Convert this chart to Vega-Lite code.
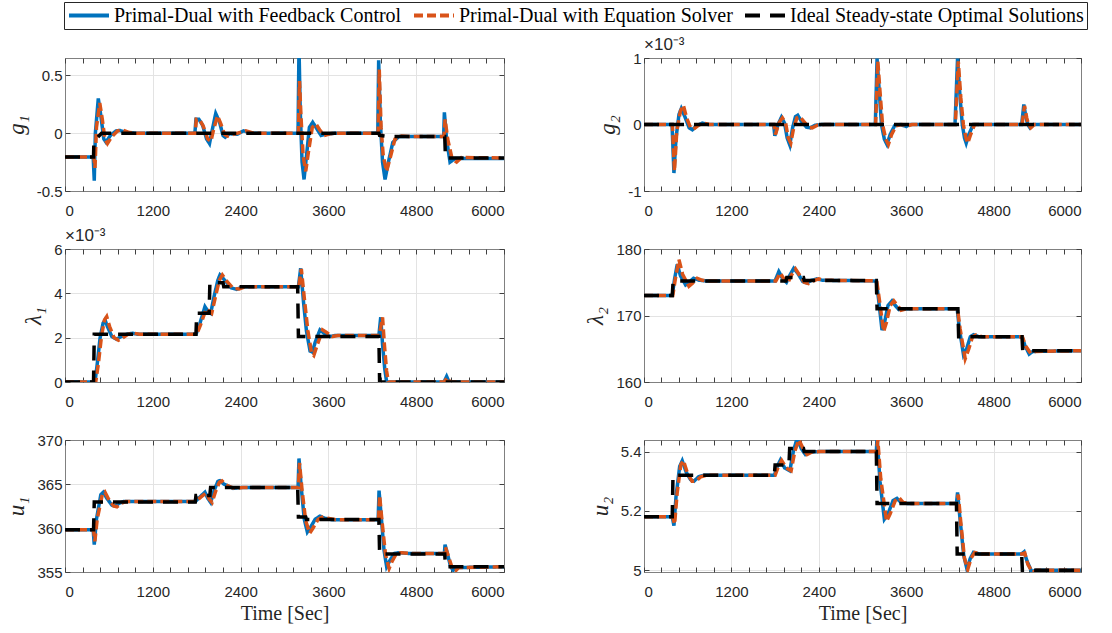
{
"$schema": "https://vega.github.io/schema/vega-lite/v6.json",
"padding": {"left": 4, "top": 1, "right": 5, "bottom": 5},
"config": {
 "font": "Liberation Sans",
 "view": {"stroke": "#808080", "strokeWidth": 1},
 "axis": {"domain": false, "gridColor": "#e3e3e3", "gridWidth": 1, "tickColor": "#404040", "tickSize": -5, "labelFont": "Liberation Sans", "labelFontSize": 15, "labelColor": "#262626", "titleFont": "Liberation Serif", "titleFontWeight": "normal", "titleColor": "#262626"},
 "axisX": {"labelPadding": 17, "titleFontSize": 20, "titlePadding": 4},
 "axisY": {"labelPadding": 8, "titleFontSize": 23, "titlePadding": 8},
 "title": {"font": "Liberation Sans", "fontSize": 17, "fontWeight": "normal", "color": "#262626", "anchor": "start", "frame": "group", "offset": -3},
 "legend": {"orient": "none", "legendX": -1, "legendY": -56, "direction": "horizontal", "title": null, "labelFont": "Liberation Serif", "labelFontSize": 20, "labelLimit": 0, "labelColor": "#000000", "symbolType": "stroke", "symbolSize": 1600, "symbolStrokeWidth": 4, "clipHeight": 21, "strokeColor": "#262626", "fillColor": "#ffffff", "padding": 3, "columnPadding": 10, "labelOffset": 3}
},
"data": {"values": [
{"p":"g1","s":"A","t":0,"v":-0.205},{"p":"g1","s":"A","t":385,"v":-0.205},{"p":"g1","s":"A","t":400,"v":-0.41},{"p":"g1","s":"A","t":415,"v":0.0},{"p":"g1","s":"A","t":455,"v":0.30},{"p":"g1","s":"A","t":490,"v":0.15},{"p":"g1","s":"A","t":530,"v":-0.05},{"p":"g1","s":"A","t":560,"v":-0.077},{"p":"g1","s":"A","t":620,"v":-0.02},{"p":"g1","s":"A","t":700,"v":0.02},{"p":"g1","s":"A","t":750,"v":0.023},{"p":"g1","s":"A","t":850,"v":0.005},{"p":"g1","s":"A","t":950,"v":0},{"p":"g1","s":"A","t":1775,"v":0},{"p":"g1","s":"A","t":1790,"v":0.12},{"p":"g1","s":"A","t":1830,"v":0.12},{"p":"g1","s":"A","t":1880,"v":0.07},{"p":"g1","s":"A","t":1935,"v":-0.05},{"p":"g1","s":"A","t":1975,"v":-0.09},{"p":"g1","s":"A","t":2010,"v":0.02},{"p":"g1","s":"A","t":2060,"v":0.17},{"p":"g1","s":"A","t":2110,"v":0.10},{"p":"g1","s":"A","t":2160,"v":-0.02},{"p":"g1","s":"A","t":2190,"v":-0.035},{"p":"g1","s":"A","t":2250,"v":-0.005},{"p":"g1","s":"A","t":2350,"v":-0.01},{"p":"g1","s":"A","t":2440,"v":0.02},{"p":"g1","s":"A","t":2550,"v":0},{"p":"g1","s":"A","t":3185,"v":0},{"p":"g1","s":"A","t":3198,"v":0.75},{"p":"g1","s":"A","t":3215,"v":0.2},{"p":"g1","s":"A","t":3240,"v":-0.25},{"p":"g1","s":"A","t":3267,"v":-0.40},{"p":"g1","s":"A","t":3300,"v":-0.2},{"p":"g1","s":"A","t":3340,"v":0.05},{"p":"g1","s":"A","t":3385,"v":0.094},{"p":"g1","s":"A","t":3440,"v":0.04},{"p":"g1","s":"A","t":3500,"v":-0.02},{"p":"g1","s":"A","t":3560,"v":-0.01},{"p":"g1","s":"A","t":3700,"v":0},{"p":"g1","s":"A","t":4275,"v":0},{"p":"g1","s":"A","t":4287,"v":0.63},{"p":"g1","s":"A","t":4310,"v":0.1},{"p":"g1","s":"A","t":4340,"v":-0.25},{"p":"g1","s":"A","t":4374,"v":-0.40},{"p":"g1","s":"A","t":4420,"v":-0.25},{"p":"g1","s":"A","t":4480,"v":-0.08},{"p":"g1","s":"A","t":4560,"v":-0.03},{"p":"g1","s":"A","t":4700,"v":-0.028},{"p":"g1","s":"A","t":5175,"v":-0.028},{"p":"g1","s":"A","t":5185,"v":0.18},{"p":"g1","s":"A","t":5215,"v":-0.05},{"p":"g1","s":"A","t":5262,"v":-0.25},{"p":"g1","s":"A","t":5330,"v":-0.22},{"p":"g1","s":"A","t":6000,"v":-0.22},
{"p":"g1","s":"B","t":0,"v":-0.205},{"p":"g1","s":"B","t":395,"v":-0.205},{"p":"g1","s":"B","t":410,"v":-0.3},{"p":"g1","s":"B","t":430,"v":0.05},{"p":"g1","s":"B","t":475,"v":0.26},{"p":"g1","s":"B","t":510,"v":0.12},{"p":"g1","s":"B","t":545,"v":-0.05},{"p":"g1","s":"B","t":580,"v":-0.09},{"p":"g1","s":"B","t":640,"v":-0.03},{"p":"g1","s":"B","t":720,"v":0.02},{"p":"g1","s":"B","t":780,"v":0.03},{"p":"g1","s":"B","t":880,"v":0.005},{"p":"g1","s":"B","t":980,"v":0},{"p":"g1","s":"B","t":1780,"v":0},{"p":"g1","s":"B","t":1795,"v":0.12},{"p":"g1","s":"B","t":1840,"v":0.115},{"p":"g1","s":"B","t":1890,"v":0.06},{"p":"g1","s":"B","t":1950,"v":-0.05},{"p":"g1","s":"B","t":1995,"v":-0.07},{"p":"g1","s":"B","t":2030,"v":0.03},{"p":"g1","s":"B","t":2085,"v":0.15},{"p":"g1","s":"B","t":2130,"v":0.08},{"p":"g1","s":"B","t":2180,"v":-0.01},{"p":"g1","s":"B","t":2220,"v":-0.025},{"p":"g1","s":"B","t":2300,"v":-0.01},{"p":"g1","s":"B","t":2470,"v":0.02},{"p":"g1","s":"B","t":2580,"v":0},{"p":"g1","s":"B","t":3190,"v":0},{"p":"g1","s":"B","t":3205,"v":0.45},{"p":"g1","s":"B","t":3225,"v":0.15},{"p":"g1","s":"B","t":3255,"v":-0.2},{"p":"g1","s":"B","t":3290,"v":-0.33},{"p":"g1","s":"B","t":3330,"v":-0.15},{"p":"g1","s":"B","t":3380,"v":0.05},{"p":"g1","s":"B","t":3430,"v":0.08},{"p":"g1","s":"B","t":3480,"v":0.03},{"p":"g1","s":"B","t":3540,"v":-0.02},{"p":"g1","s":"B","t":3620,"v":-0.005},{"p":"g1","s":"B","t":3750,"v":0},{"p":"g1","s":"B","t":4280,"v":0},{"p":"g1","s":"B","t":4295,"v":0.55},{"p":"g1","s":"B","t":4320,"v":0.05},{"p":"g1","s":"B","t":4350,"v":-0.2},{"p":"g1","s":"B","t":4395,"v":-0.33},{"p":"g1","s":"B","t":4450,"v":-0.2},{"p":"g1","s":"B","t":4510,"v":-0.05},{"p":"g1","s":"B","t":4600,"v":-0.025},{"p":"g1","s":"B","t":4700,"v":-0.028},{"p":"g1","s":"B","t":5180,"v":-0.028},{"p":"g1","s":"B","t":5195,"v":0.12},{"p":"g1","s":"B","t":5230,"v":-0.05},{"p":"g1","s":"B","t":5290,"v":-0.22},{"p":"g1","s":"B","t":5353,"v":-0.25},{"p":"g1","s":"B","t":5420,"v":-0.21},{"p":"g1","s":"B","t":6000,"v":-0.215},
{"p":"g1","s":"C","t":0,"v":-0.205},{"p":"g1","s":"C","t":390,"v":-0.205},{"p":"g1","s":"C","t":395,"v":-0.07},{"p":"g1","s":"C","t":500,"v":0},{"p":"g1","s":"C","t":4290,"v":0},{"p":"g1","s":"C","t":4300,"v":-0.02},{"p":"g1","s":"C","t":4400,"v":-0.028},{"p":"g1","s":"C","t":5190,"v":-0.028},{"p":"g1","s":"C","t":5200,"v":-0.215},{"p":"g1","s":"C","t":6000,"v":-0.215},

{"p":"g2","s":"A","t":0,"v":0},{"p":"g2","s":"A","t":385,"v":0},{"p":"g2","s":"A","t":411,"v":-0.73},{"p":"g2","s":"A","t":440,"v":-0.2},{"p":"g2","s":"A","t":480,"v":0.15},{"p":"g2","s":"A","t":512,"v":0.24},{"p":"g2","s":"A","t":560,"v":0.12},{"p":"g2","s":"A","t":620,"v":-0.05},{"p":"g2","s":"A","t":663,"v":-0.08},{"p":"g2","s":"A","t":720,"v":-0.02},{"p":"g2","s":"A","t":800,"v":0.02},{"p":"g2","s":"A","t":880,"v":0},{"p":"g2","s":"A","t":1780,"v":0},{"p":"g2","s":"A","t":1796,"v":-0.17},{"p":"g2","s":"A","t":1840,"v":0.0},{"p":"g2","s":"A","t":1887,"v":0.11},{"p":"g2","s":"A","t":1930,"v":0.02},{"p":"g2","s":"A","t":1965,"v":-0.2},{"p":"g2","s":"A","t":2002,"v":-0.31},{"p":"g2","s":"A","t":2040,"v":-0.05},{"p":"g2","s":"A","t":2080,"v":0.12},{"p":"g2","s":"A","t":2110,"v":0.14},{"p":"g2","s":"A","t":2160,"v":0.05},{"p":"g2","s":"A","t":2230,"v":-0.04},{"p":"g2","s":"A","t":2285,"v":-0.05},{"p":"g2","s":"A","t":2350,"v":-0.01},{"p":"g2","s":"A","t":2450,"v":0},{"p":"g2","s":"A","t":3176,"v":0},{"p":"g2","s":"A","t":3200,"v":0.99},{"p":"g2","s":"A","t":3230,"v":0.5},{"p":"g2","s":"A","t":3260,"v":0.0},{"p":"g2","s":"A","t":3300,"v":-0.22},{"p":"g2","s":"A","t":3336,"v":-0.30},{"p":"g2","s":"A","t":3380,"v":-0.15},{"p":"g2","s":"A","t":3440,"v":-0.02},{"p":"g2","s":"A","t":3520,"v":0.0},{"p":"g2","s":"A","t":3600,"v":-0.03},{"p":"g2","s":"A","t":3650,"v":0},{"p":"g2","s":"A","t":4270,"v":0},{"p":"g2","s":"A","t":4305,"v":0.99},{"p":"g2","s":"A","t":4340,"v":0.4},{"p":"g2","s":"A","t":4370,"v":0.0},{"p":"g2","s":"A","t":4400,"v":-0.2},{"p":"g2","s":"A","t":4424,"v":-0.28},{"p":"g2","s":"A","t":4460,"v":-0.15},{"p":"g2","s":"A","t":4520,"v":0},{"p":"g2","s":"A","t":5185,"v":0},{"p":"g2","s":"A","t":5215,"v":0.30},{"p":"g2","s":"A","t":5245,"v":0.1},{"p":"g2","s":"A","t":5270,"v":0},{"p":"g2","s":"A","t":5300,"v":-0.05},{"p":"g2","s":"A","t":5350,"v":0},{"p":"g2","s":"A","t":6000,"v":0},
{"p":"g2","s":"B","t":0,"v":0},{"p":"g2","s":"B","t":390,"v":0},{"p":"g2","s":"B","t":418,"v":-0.70},{"p":"g2","s":"B","t":450,"v":-0.1},{"p":"g2","s":"B","t":500,"v":0.2},{"p":"g2","s":"B","t":540,"v":0.29},{"p":"g2","s":"B","t":585,"v":0.1},{"p":"g2","s":"B","t":640,"v":-0.05},{"p":"g2","s":"B","t":680,"v":-0.07},{"p":"g2","s":"B","t":750,"v":-0.01},{"p":"g2","s":"B","t":820,"v":0.02},{"p":"g2","s":"B","t":900,"v":0},{"p":"g2","s":"B","t":1785,"v":0},{"p":"g2","s":"B","t":1805,"v":-0.15},{"p":"g2","s":"B","t":1850,"v":0.02},{"p":"g2","s":"B","t":1900,"v":0.10},{"p":"g2","s":"B","t":1945,"v":0.02},{"p":"g2","s":"B","t":1980,"v":-0.2},{"p":"g2","s":"B","t":2015,"v":-0.28},{"p":"g2","s":"B","t":2055,"v":-0.05},{"p":"g2","s":"B","t":2100,"v":0.10},{"p":"g2","s":"B","t":2140,"v":0.12},{"p":"g2","s":"B","t":2190,"v":0.05},{"p":"g2","s":"B","t":2260,"v":-0.04},{"p":"g2","s":"B","t":2310,"v":-0.05},{"p":"g2","s":"B","t":2380,"v":-0.01},{"p":"g2","s":"B","t":2480,"v":0},{"p":"g2","s":"B","t":3180,"v":0},{"p":"g2","s":"B","t":3210,"v":0.95},{"p":"g2","s":"B","t":3240,"v":0.5},{"p":"g2","s":"B","t":3275,"v":0.0},{"p":"g2","s":"B","t":3320,"v":-0.22},{"p":"g2","s":"B","t":3355,"v":-0.30},{"p":"g2","s":"B","t":3400,"v":-0.15},{"p":"g2","s":"B","t":3460,"v":-0.02},{"p":"g2","s":"B","t":3540,"v":0.0},{"p":"g2","s":"B","t":3620,"v":-0.02},{"p":"g2","s":"B","t":3680,"v":0},{"p":"g2","s":"B","t":4275,"v":0},{"p":"g2","s":"B","t":4315,"v":0.95},{"p":"g2","s":"B","t":4350,"v":0.4},{"p":"g2","s":"B","t":4385,"v":0.0},{"p":"g2","s":"B","t":4420,"v":-0.2},{"p":"g2","s":"B","t":4445,"v":-0.28},{"p":"g2","s":"B","t":4485,"v":-0.15},{"p":"g2","s":"B","t":4540,"v":0},{"p":"g2","s":"B","t":5190,"v":0},{"p":"g2","s":"B","t":5225,"v":0.28},{"p":"g2","s":"B","t":5255,"v":0.1},{"p":"g2","s":"B","t":5280,"v":0},{"p":"g2","s":"B","t":5310,"v":-0.05},{"p":"g2","s":"B","t":5360,"v":0},{"p":"g2","s":"B","t":6000,"v":0},
{"p":"g2","s":"C","t":0,"v":0},{"p":"g2","s":"C","t":6000,"v":0},

{"p":"l1","s":"A","t":0,"v":0},{"p":"l1","s":"A","t":410,"v":0},{"p":"l1","s":"A","t":440,"v":0.8},{"p":"l1","s":"A","t":480,"v":2.0},{"p":"l1","s":"A","t":520,"v":2.65},{"p":"l1","s":"A","t":547,"v":2.8},{"p":"l1","s":"A","t":580,"v":2.5},{"p":"l1","s":"A","t":640,"v":2.05},{"p":"l1","s":"A","t":706,"v":1.93},{"p":"l1","s":"A","t":770,"v":2.05},{"p":"l1","s":"A","t":840,"v":2.15},{"p":"l1","s":"A","t":920,"v":2.2},{"p":"l1","s":"A","t":1000,"v":2.15},{"p":"l1","s":"A","t":1790,"v":2.15},{"p":"l1","s":"A","t":1840,"v":2.6},{"p":"l1","s":"A","t":1913,"v":3.4},{"p":"l1","s":"A","t":1950,"v":3.2},{"p":"l1","s":"A","t":1991,"v":3.1},{"p":"l1","s":"A","t":2040,"v":3.9},{"p":"l1","s":"A","t":2090,"v":4.6},{"p":"l1","s":"A","t":2118,"v":4.83},{"p":"l1","s":"A","t":2180,"v":4.6},{"p":"l1","s":"A","t":2270,"v":4.25},{"p":"l1","s":"A","t":2346,"v":4.18},{"p":"l1","s":"A","t":2420,"v":4.28},{"p":"l1","s":"A","t":2500,"v":4.3},{"p":"l1","s":"A","t":3190,"v":4.3},{"p":"l1","s":"A","t":3221,"v":5.13},{"p":"l1","s":"A","t":3260,"v":3.6},{"p":"l1","s":"A","t":3300,"v":2.3},{"p":"l1","s":"A","t":3349,"v":1.4},{"p":"l1","s":"A","t":3380,"v":1.35},{"p":"l1","s":"A","t":3420,"v":1.8},{"p":"l1","s":"A","t":3485,"v":2.35},{"p":"l1","s":"A","t":3540,"v":2.2},{"p":"l1","s":"A","t":3620,"v":2.05},{"p":"l1","s":"A","t":3700,"v":2.1},{"p":"l1","s":"A","t":4290,"v":2.1},{"p":"l1","s":"A","t":4315,"v":2.92},{"p":"l1","s":"A","t":4340,"v":1.7},{"p":"l1","s":"A","t":4370,"v":0.6},{"p":"l1","s":"A","t":4396,"v":0},{"p":"l1","s":"A","t":5180,"v":0},{"p":"l1","s":"A","t":5216,"v":0.25},{"p":"l1","s":"A","t":5250,"v":0},{"p":"l1","s":"A","t":6000,"v":0},
{"p":"l1","s":"B","t":0,"v":0},{"p":"l1","s":"B","t":420,"v":0},{"p":"l1","s":"B","t":455,"v":0.8},{"p":"l1","s":"B","t":500,"v":2.1},{"p":"l1","s":"B","t":540,"v":2.8},{"p":"l1","s":"B","t":570,"v":2.95},{"p":"l1","s":"B","t":610,"v":2.5},{"p":"l1","s":"B","t":670,"v":2.0},{"p":"l1","s":"B","t":730,"v":1.88},{"p":"l1","s":"B","t":790,"v":2.0},{"p":"l1","s":"B","t":860,"v":2.15},{"p":"l1","s":"B","t":940,"v":2.2},{"p":"l1","s":"B","t":1020,"v":2.15},{"p":"l1","s":"B","t":1800,"v":2.15},{"p":"l1","s":"B","t":1855,"v":2.6},{"p":"l1","s":"B","t":1930,"v":3.3},{"p":"l1","s":"B","t":1970,"v":3.2},{"p":"l1","s":"B","t":2005,"v":3.1},{"p":"l1","s":"B","t":2060,"v":3.9},{"p":"l1","s":"B","t":2110,"v":4.6},{"p":"l1","s":"B","t":2150,"v":4.83},{"p":"l1","s":"B","t":2210,"v":4.55},{"p":"l1","s":"B","t":2300,"v":4.22},{"p":"l1","s":"B","t":2380,"v":4.2},{"p":"l1","s":"B","t":2450,"v":4.28},{"p":"l1","s":"B","t":2530,"v":4.3},{"p":"l1","s":"B","t":3195,"v":4.3},{"p":"l1","s":"B","t":3230,"v":5.1},{"p":"l1","s":"B","t":3270,"v":3.8},{"p":"l1","s":"B","t":3320,"v":2.3},{"p":"l1","s":"B","t":3370,"v":1.3},{"p":"l1","s":"B","t":3400,"v":1.2},{"p":"l1","s":"B","t":3440,"v":1.6},{"p":"l1","s":"B","t":3520,"v":2.35},{"p":"l1","s":"B","t":3570,"v":2.25},{"p":"l1","s":"B","t":3650,"v":2.05},{"p":"l1","s":"B","t":3730,"v":2.1},{"p":"l1","s":"B","t":4295,"v":2.1},{"p":"l1","s":"B","t":4340,"v":2.92},{"p":"l1","s":"B","t":4365,"v":1.7},{"p":"l1","s":"B","t":4395,"v":0.5},{"p":"l1","s":"B","t":4420,"v":0},{"p":"l1","s":"B","t":5185,"v":0},{"p":"l1","s":"B","t":5225,"v":0.2},{"p":"l1","s":"B","t":5260,"v":0},{"p":"l1","s":"B","t":6000,"v":0},
{"p":"l1","s":"C","t":0,"v":0},{"p":"l1","s":"C","t":390,"v":0},{"p":"l1","s":"C","t":400,"v":2.15},{"p":"l1","s":"C","t":1790,"v":2.15},{"p":"l1","s":"C","t":1800,"v":3.1},{"p":"l1","s":"C","t":1970,"v":3.1},{"p":"l1","s":"C","t":1980,"v":4.48},{"p":"l1","s":"C","t":2160,"v":4.48},{"p":"l1","s":"C","t":2170,"v":4.3},{"p":"l1","s":"C","t":3180,"v":4.3},{"p":"l1","s":"C","t":3190,"v":2.05},{"p":"l1","s":"C","t":4290,"v":2.05},{"p":"l1","s":"C","t":4300,"v":0},{"p":"l1","s":"C","t":6000,"v":0},

{"p":"l2","s":"A","t":0,"v":173},{"p":"l2","s":"A","t":388,"v":173},{"p":"l2","s":"A","t":420,"v":175.5},{"p":"l2","s":"A","t":457,"v":177.7},{"p":"l2","s":"A","t":500,"v":176.0},{"p":"l2","s":"A","t":571,"v":174.6},{"p":"l2","s":"A","t":620,"v":175.0},{"p":"l2","s":"A","t":680,"v":175.6},{"p":"l2","s":"A","t":760,"v":175.3},{"p":"l2","s":"A","t":850,"v":175.2},{"p":"l2","s":"A","t":1800,"v":175.2},{"p":"l2","s":"A","t":1851,"v":176.6},{"p":"l2","s":"A","t":1900,"v":175.6},{"p":"l2","s":"A","t":1956,"v":175.0},{"p":"l2","s":"A","t":2000,"v":176.0},{"p":"l2","s":"A","t":2056,"v":177.1},{"p":"l2","s":"A","t":2120,"v":176.2},{"p":"l2","s":"A","t":2180,"v":175.1},{"p":"l2","s":"A","t":2239,"v":174.9},{"p":"l2","s":"A","t":2300,"v":175.3},{"p":"l2","s":"A","t":2370,"v":175.5},{"p":"l2","s":"A","t":2450,"v":175.3},{"p":"l2","s":"A","t":3190,"v":175.2},{"p":"l2","s":"A","t":3220,"v":172.5},{"p":"l2","s":"A","t":3268,"v":167.8},{"p":"l2","s":"A","t":3300,"v":168.8},{"p":"l2","s":"A","t":3350,"v":171.5},{"p":"l2","s":"A","t":3405,"v":172.2},{"p":"l2","s":"A","t":3450,"v":171.5},{"p":"l2","s":"A","t":3500,"v":170.9},{"p":"l2","s":"A","t":3560,"v":171.0},{"p":"l2","s":"A","t":4300,"v":171.0},{"p":"l2","s":"A","t":4330,"v":168.0},{"p":"l2","s":"A","t":4387,"v":164.1},{"p":"l2","s":"A","t":4430,"v":165.0},{"p":"l2","s":"A","t":4480,"v":166.8},{"p":"l2","s":"A","t":4524,"v":167.1},{"p":"l2","s":"A","t":4600,"v":166.8},{"p":"l2","s":"A","t":5190,"v":166.8},{"p":"l2","s":"A","t":5230,"v":165.5},{"p":"l2","s":"A","t":5288,"v":164.2},{"p":"l2","s":"A","t":5340,"v":164.6},{"p":"l2","s":"A","t":6000,"v":164.7},
{"p":"l2","s":"B","t":0,"v":173},{"p":"l2","s":"B","t":395,"v":173},{"p":"l2","s":"B","t":430,"v":175.5},{"p":"l2","s":"B","t":480,"v":178.4},{"p":"l2","s":"B","t":530,"v":176.2},{"p":"l2","s":"B","t":617,"v":174.4},{"p":"l2","s":"B","t":670,"v":174.9},{"p":"l2","s":"B","t":730,"v":175.6},{"p":"l2","s":"B","t":800,"v":175.3},{"p":"l2","s":"B","t":880,"v":175.2},{"p":"l2","s":"B","t":1810,"v":175.2},{"p":"l2","s":"B","t":1870,"v":176.4},{"p":"l2","s":"B","t":1920,"v":175.5},{"p":"l2","s":"B","t":1975,"v":174.9},{"p":"l2","s":"B","t":2020,"v":176.0},{"p":"l2","s":"B","t":2080,"v":177.0},{"p":"l2","s":"B","t":2140,"v":176.0},{"p":"l2","s":"B","t":2200,"v":175.0},{"p":"l2","s":"B","t":2260,"v":174.8},{"p":"l2","s":"B","t":2320,"v":175.2},{"p":"l2","s":"B","t":2400,"v":175.5},{"p":"l2","s":"B","t":2480,"v":175.3},{"p":"l2","s":"B","t":3195,"v":175.2},{"p":"l2","s":"B","t":3230,"v":172.5},{"p":"l2","s":"B","t":3290,"v":167.6},{"p":"l2","s":"B","t":3330,"v":169.0},{"p":"l2","s":"B","t":3380,"v":171.5},{"p":"l2","s":"B","t":3430,"v":172.2},{"p":"l2","s":"B","t":3480,"v":171.5},{"p":"l2","s":"B","t":3530,"v":170.8},{"p":"l2","s":"B","t":3600,"v":171.0},{"p":"l2","s":"B","t":4305,"v":171.0},{"p":"l2","s":"B","t":4340,"v":168.0},{"p":"l2","s":"B","t":4410,"v":163.5},{"p":"l2","s":"B","t":4460,"v":165.0},{"p":"l2","s":"B","t":4510,"v":166.8},{"p":"l2","s":"B","t":4560,"v":167.1},{"p":"l2","s":"B","t":4640,"v":166.8},{"p":"l2","s":"B","t":5195,"v":166.8},{"p":"l2","s":"B","t":5240,"v":165.4},{"p":"l2","s":"B","t":5310,"v":164.3},{"p":"l2","s":"B","t":5370,"v":164.6},{"p":"l2","s":"B","t":6000,"v":164.7},
{"p":"l2","s":"C","t":0,"v":173},{"p":"l2","s":"C","t":388,"v":173},{"p":"l2","s":"C","t":400,"v":175.2},{"p":"l2","s":"C","t":1950,"v":175.2},{"p":"l2","s":"C","t":1960,"v":175.7},{"p":"l2","s":"C","t":2190,"v":175.7},{"p":"l2","s":"C","t":2200,"v":175.25},{"p":"l2","s":"C","t":3190,"v":175.25},{"p":"l2","s":"C","t":3200,"v":171.0},{"p":"l2","s":"C","t":4310,"v":171.0},{"p":"l2","s":"C","t":4320,"v":166.8},{"p":"l2","s":"C","t":5190,"v":166.8},{"p":"l2","s":"C","t":5200,"v":164.7},{"p":"l2","s":"C","t":6000,"v":164.7},

{"p":"u1","s":"A","t":0,"v":359.8},{"p":"u1","s":"A","t":385,"v":359.8},{"p":"u1","s":"A","t":400,"v":358.1},{"p":"u1","s":"A","t":430,"v":361.0},{"p":"u1","s":"A","t":490,"v":363.8},{"p":"u1","s":"A","t":524,"v":364.06},{"p":"u1","s":"A","t":570,"v":363.4},{"p":"u1","s":"A","t":640,"v":362.6},{"p":"u1","s":"A","t":683,"v":362.48},{"p":"u1","s":"A","t":740,"v":362.8},{"p":"u1","s":"A","t":800,"v":363.0},{"p":"u1","s":"A","t":900,"v":363.0},{"p":"u1","s":"A","t":1780,"v":363.0},{"p":"u1","s":"A","t":1840,"v":363.5},{"p":"u1","s":"A","t":1913,"v":364.06},{"p":"u1","s":"A","t":1950,"v":363.4},{"p":"u1","s":"A","t":1991,"v":362.9},{"p":"u1","s":"A","t":2040,"v":364.3},{"p":"u1","s":"A","t":2090,"v":365.3},{"p":"u1","s":"A","t":2118,"v":365.38},{"p":"u1","s":"A","t":2170,"v":365.0},{"p":"u1","s":"A","t":2250,"v":364.7},{"p":"u1","s":"A","t":2300,"v":364.5},{"p":"u1","s":"A","t":2400,"v":364.6},{"p":"u1","s":"A","t":3185,"v":364.6},{"p":"u1","s":"A","t":3198,"v":367.9},{"p":"u1","s":"A","t":3230,"v":364.5},{"p":"u1","s":"A","t":3270,"v":361.0},{"p":"u1","s":"A","t":3312,"v":359.55},{"p":"u1","s":"A","t":3350,"v":360.0},{"p":"u1","s":"A","t":3420,"v":361.0},{"p":"u1","s":"A","t":3485,"v":361.35},{"p":"u1","s":"A","t":3550,"v":361.1},{"p":"u1","s":"A","t":3650,"v":360.95},{"p":"u1","s":"A","t":4280,"v":360.95},{"p":"u1","s":"A","t":4292,"v":364.25},{"p":"u1","s":"A","t":4320,"v":361.5},{"p":"u1","s":"A","t":4360,"v":357.5},{"p":"u1","s":"A","t":4396,"v":355.6},{"p":"u1","s":"A","t":4440,"v":356.3},{"p":"u1","s":"A","t":4500,"v":357.1},{"p":"u1","s":"A","t":4560,"v":357.2},{"p":"u1","s":"A","t":4700,"v":357.1},{"p":"u1","s":"A","t":5185,"v":357.1},{"p":"u1","s":"A","t":5194,"v":358.1},{"p":"u1","s":"A","t":5230,"v":357.0},{"p":"u1","s":"A","t":5270,"v":355.6},{"p":"u1","s":"A","t":5307,"v":355.2},{"p":"u1","s":"A","t":5350,"v":355.5},{"p":"u1","s":"A","t":6000,"v":355.6},
{"p":"u1","s":"B","t":0,"v":359.8},{"p":"u1","s":"B","t":390,"v":359.8},{"p":"u1","s":"B","t":408,"v":358.5},{"p":"u1","s":"B","t":440,"v":361.0},{"p":"u1","s":"B","t":510,"v":363.8},{"p":"u1","s":"B","t":545,"v":364.1},{"p":"u1","s":"B","t":595,"v":363.3},{"p":"u1","s":"B","t":665,"v":362.5},{"p":"u1","s":"B","t":710,"v":362.4},{"p":"u1","s":"B","t":770,"v":362.8},{"p":"u1","s":"B","t":830,"v":363.0},{"p":"u1","s":"B","t":930,"v":363.0},{"p":"u1","s":"B","t":1790,"v":363.0},{"p":"u1","s":"B","t":1855,"v":363.5},{"p":"u1","s":"B","t":1930,"v":364.0},{"p":"u1","s":"B","t":1970,"v":363.3},{"p":"u1","s":"B","t":2010,"v":362.9},{"p":"u1","s":"B","t":2060,"v":364.2},{"p":"u1","s":"B","t":2110,"v":365.2},{"p":"u1","s":"B","t":2145,"v":365.35},{"p":"u1","s":"B","t":2200,"v":364.9},{"p":"u1","s":"B","t":2280,"v":364.6},{"p":"u1","s":"B","t":2330,"v":364.5},{"p":"u1","s":"B","t":2430,"v":364.6},{"p":"u1","s":"B","t":3190,"v":364.6},{"p":"u1","s":"B","t":3205,"v":367.4},{"p":"u1","s":"B","t":3240,"v":364.3},{"p":"u1","s":"B","t":3290,"v":360.8},{"p":"u1","s":"B","t":3345,"v":359.4},{"p":"u1","s":"B","t":3390,"v":360.0},{"p":"u1","s":"B","t":3460,"v":361.0},{"p":"u1","s":"B","t":3530,"v":361.3},{"p":"u1","s":"B","t":3590,"v":361.1},{"p":"u1","s":"B","t":3700,"v":360.95},{"p":"u1","s":"B","t":4285,"v":360.95},{"p":"u1","s":"B","t":4300,"v":363.7},{"p":"u1","s":"B","t":4330,"v":361.0},{"p":"u1","s":"B","t":4380,"v":357.0},{"p":"u1","s":"B","t":4430,"v":355.4},{"p":"u1","s":"B","t":4470,"v":356.2},{"p":"u1","s":"B","t":4530,"v":357.1},{"p":"u1","s":"B","t":4600,"v":357.2},{"p":"u1","s":"B","t":4730,"v":357.1},{"p":"u1","s":"B","t":5190,"v":357.1},{"p":"u1","s":"B","t":5200,"v":357.8},{"p":"u1","s":"B","t":5240,"v":356.8},{"p":"u1","s":"B","t":5290,"v":355.5},{"p":"u1","s":"B","t":5335,"v":355.1},{"p":"u1","s":"B","t":5380,"v":355.5},{"p":"u1","s":"B","t":6000,"v":355.6},
{"p":"u1","s":"C","t":0,"v":359.8},{"p":"u1","s":"C","t":390,"v":359.8},{"p":"u1","s":"C","t":400,"v":362.95},{"p":"u1","s":"C","t":1780,"v":362.95},{"p":"u1","s":"C","t":1790,"v":363.7},{"p":"u1","s":"C","t":1980,"v":363.7},{"p":"u1","s":"C","t":1990,"v":364.6},{"p":"u1","s":"C","t":3180,"v":364.6},{"p":"u1","s":"C","t":3190,"v":361.25},{"p":"u1","s":"C","t":3290,"v":361.25},{"p":"u1","s":"C","t":3300,"v":360.98},{"p":"u1","s":"C","t":4290,"v":360.98},{"p":"u1","s":"C","t":4300,"v":357.05},{"p":"u1","s":"C","t":5190,"v":357.05},{"p":"u1","s":"C","t":5200,"v":355.6},{"p":"u1","s":"C","t":6000,"v":355.6},

{"p":"u2","s":"A","t":0,"v":5.18},{"p":"u2","s":"A","t":388,"v":5.18},{"p":"u2","s":"A","t":411,"v":5.15},{"p":"u2","s":"A","t":440,"v":5.25},{"p":"u2","s":"A","t":490,"v":5.35},{"p":"u2","s":"A","t":525,"v":5.369},{"p":"u2","s":"A","t":580,"v":5.33},{"p":"u2","s":"A","t":640,"v":5.305},{"p":"u2","s":"A","t":686,"v":5.30},{"p":"u2","s":"A","t":750,"v":5.315},{"p":"u2","s":"A","t":820,"v":5.32},{"p":"u2","s":"A","t":1790,"v":5.32},{"p":"u2","s":"A","t":1830,"v":5.35},{"p":"u2","s":"A","t":1874,"v":5.372},{"p":"u2","s":"A","t":1930,"v":5.345},{"p":"u2","s":"A","t":2002,"v":5.335},{"p":"u2","s":"A","t":2050,"v":5.40},{"p":"u2","s":"A","t":2102,"v":5.445},{"p":"u2","s":"A","t":2160,"v":5.41},{"p":"u2","s":"A","t":2216,"v":5.39},{"p":"u2","s":"A","t":2280,"v":5.398},{"p":"u2","s":"A","t":2400,"v":5.40},{"p":"u2","s":"A","t":3190,"v":5.40},{"p":"u2","s":"A","t":3200,"v":5.45},{"p":"u2","s":"A","t":3240,"v":5.30},{"p":"u2","s":"A","t":3300,"v":5.172},{"p":"u2","s":"A","t":3350,"v":5.19},{"p":"u2","s":"A","t":3420,"v":5.235},{"p":"u2","s":"A","t":3473,"v":5.242},{"p":"u2","s":"A","t":3530,"v":5.228},{"p":"u2","s":"A","t":3620,"v":5.225},{"p":"u2","s":"A","t":4290,"v":5.225},{"p":"u2","s":"A","t":4305,"v":5.262},{"p":"u2","s":"A","t":4340,"v":5.17},{"p":"u2","s":"A","t":4390,"v":5.05},{"p":"u2","s":"A","t":4433,"v":5.005},{"p":"u2","s":"A","t":4480,"v":5.04},{"p":"u2","s":"A","t":4524,"v":5.06},{"p":"u2","s":"A","t":4600,"v":5.055},{"p":"u2","s":"A","t":5185,"v":5.055},{"p":"u2","s":"A","t":5219,"v":5.062},{"p":"u2","s":"A","t":5260,"v":5.03},{"p":"u2","s":"A","t":5324,"v":4.995},{"p":"u2","s":"A","t":5380,"v":5.0},{"p":"u2","s":"A","t":6000,"v":5.0},
{"p":"u2","s":"B","t":0,"v":5.18},{"p":"u2","s":"B","t":395,"v":5.18},{"p":"u2","s":"B","t":420,"v":5.155},{"p":"u2","s":"B","t":455,"v":5.26},{"p":"u2","s":"B","t":505,"v":5.355},{"p":"u2","s":"B","t":540,"v":5.37},{"p":"u2","s":"B","t":600,"v":5.325},{"p":"u2","s":"B","t":660,"v":5.30},{"p":"u2","s":"B","t":710,"v":5.30},{"p":"u2","s":"B","t":780,"v":5.315},{"p":"u2","s":"B","t":850,"v":5.32},{"p":"u2","s":"B","t":1800,"v":5.32},{"p":"u2","s":"B","t":1845,"v":5.35},{"p":"u2","s":"B","t":1890,"v":5.37},{"p":"u2","s":"B","t":1950,"v":5.345},{"p":"u2","s":"B","t":2020,"v":5.335},{"p":"u2","s":"B","t":2070,"v":5.40},{"p":"u2","s":"B","t":2125,"v":5.44},{"p":"u2","s":"B","t":2185,"v":5.41},{"p":"u2","s":"B","t":2240,"v":5.39},{"p":"u2","s":"B","t":2300,"v":5.398},{"p":"u2","s":"B","t":2420,"v":5.40},{"p":"u2","s":"B","t":3195,"v":5.40},{"p":"u2","s":"B","t":3210,"v":5.44},{"p":"u2","s":"B","t":3250,"v":5.31},{"p":"u2","s":"B","t":3330,"v":5.165},{"p":"u2","s":"B","t":3380,"v":5.19},{"p":"u2","s":"B","t":3450,"v":5.235},{"p":"u2","s":"B","t":3500,"v":5.245},{"p":"u2","s":"B","t":3560,"v":5.228},{"p":"u2","s":"B","t":3650,"v":5.225},{"p":"u2","s":"B","t":4295,"v":5.225},{"p":"u2","s":"B","t":4315,"v":5.255},{"p":"u2","s":"B","t":4350,"v":5.16},{"p":"u2","s":"B","t":4400,"v":5.04},{"p":"u2","s":"B","t":4445,"v":5.003},{"p":"u2","s":"B","t":4490,"v":5.04},{"p":"u2","s":"B","t":4540,"v":5.06},{"p":"u2","s":"B","t":4620,"v":5.055},{"p":"u2","s":"B","t":5190,"v":5.055},{"p":"u2","s":"B","t":5228,"v":5.058},{"p":"u2","s":"B","t":5270,"v":5.02},{"p":"u2","s":"B","t":5335,"v":4.993},{"p":"u2","s":"B","t":5390,"v":5.0},{"p":"u2","s":"B","t":6000,"v":5.0},
{"p":"u2","s":"C","t":0,"v":5.18},{"p":"u2","s":"C","t":388,"v":5.18},{"p":"u2","s":"C","t":398,"v":5.32},{"p":"u2","s":"C","t":1790,"v":5.32},{"p":"u2","s":"C","t":1800,"v":5.355},{"p":"u2","s":"C","t":1990,"v":5.355},{"p":"u2","s":"C","t":2000,"v":5.41},{"p":"u2","s":"C","t":2190,"v":5.41},{"p":"u2","s":"C","t":2200,"v":5.40},{"p":"u2","s":"C","t":3190,"v":5.40},{"p":"u2","s":"C","t":3200,"v":5.225},{"p":"u2","s":"C","t":4290,"v":5.225},{"p":"u2","s":"C","t":4300,"v":5.055},{"p":"u2","s":"C","t":5185,"v":5.055},{"p":"u2","s":"C","t":5195,"v":5.0},{"p":"u2","s":"C","t":6000,"v":5.0}
]},
"columns": 2,
"spacing": {"row": 58, "column": 140},
"bounds": "flush",
"resolve": {"scale": {"color": "shared", "strokeDash": "shared"}, "legend": {"color": "shared", "strokeDash": "shared"}},
"concat": [
 {"width": 439, "height": 133, "transform": [{"filter": "datum.p === 'g1'"}],
  "resolve": {"axis": {"x": "independent", "y": "independent"}},
  "layer": [
   {"mark": {"type": "line", "clip": true, "strokeWidth": 3.5, "strokeCap": "butt"},
    "encoding": {
     "x": {"field": "t", "type": "quantitative", "scale": {"domain": [0, 6000], "nice": false}, "axis": {"title": null, "values": [0,240,480,720,960,1200,1440,1680,1920,2160,2400,2640,2880,3120,3360,3600,3840,4080,4320,4560,4800,5040,5280,5520,5760,6000], "labelExpr": "datum.value % 1200 === 0 ? '' + datum.value : ''", "gridOpacity": {"condition": {"test": "datum.value % 1200 === 0 && datum.value > 0 && datum.value < 6000", "value": 1}, "value": 0}}},
     "y": {"field": "v", "type": "quantitative", "scale": {"domain": [-0.5, 0.65], "nice": false, "zero": false}, "axis": {"title": "g₁", "titleFontStyle": "italic", "values": [-0.5, 0, 0.5], "labelExpr": "'' + datum.value", "gridOpacity": {"condition": {"test": "datum.value === -0.5", "value": 0}, "value": 1}}},
     "color": {"field": "s", "type": "nominal", "scale": {"domain": ["A","B","C"], "range": ["#0072BD","#D95319","#000000"]}, "legend": {"labelExpr": "datum.label === 'A' ? 'Primal-Dual with Feedback Control' : datum.label === 'B' ? 'Primal-Dual with Equation Solver' : 'Ideal Steady-state Optimal Solutions'"}},
     "strokeDash": {"field": "s", "type": "nominal", "scale": {"domain": ["A","B","C"], "range": [[1,0],[9,4],[15,10]]}, "legend": {"labelExpr": "datum.label === 'A' ? 'Primal-Dual with Feedback Control' : datum.label === 'B' ? 'Primal-Dual with Equation Solver' : 'Ideal Steady-state Optimal Solutions'"}}
    }},
   {"mark": {"type": "line", "strokeOpacity": 0},
    "encoding": {
     "x": {"field": "t", "type": "quantitative", "scale": {"domain": [0, 6000], "nice": false}, "axis": {"orient": "top", "title": null, "labels": false, "grid": false, "values": [0,240,480,720,960,1200,1440,1680,1920,2160,2400,2640,2880,3120,3360,3600,3840,4080,4320,4560,4800,5040,5280,5520,5760,6000]}},
     "y": {"field": "v", "type": "quantitative", "scale": {"domain": [-0.5, 0.65], "nice": false, "zero": false}, "axis": {"orient": "right", "title": null, "labels": false, "grid": false, "values": [-0.5, 0, 0.5]}}
    }}
  ]},
 {"width": 437, "height": 133, "title": "×10⁻³", "transform": [{"filter": "datum.p === 'g2'"}],
  "resolve": {"axis": {"x": "independent", "y": "independent"}},
  "layer": [
   {"mark": {"type": "line", "clip": true, "strokeWidth": 3.5, "strokeCap": "butt"},
    "encoding": {
     "x": {"field": "t", "type": "quantitative", "scale": {"domain": [0, 6000], "nice": false}, "axis": {"title": null, "values": [0,240,480,720,960,1200,1440,1680,1920,2160,2400,2640,2880,3120,3360,3600,3840,4080,4320,4560,4800,5040,5280,5520,5760,6000], "labelExpr": "datum.value % 1200 === 0 ? '' + datum.value : ''", "gridOpacity": {"condition": {"test": "datum.value % 1200 === 0 && datum.value > 0 && datum.value < 6000", "value": 1}, "value": 0}}},
     "y": {"field": "v", "type": "quantitative", "scale": {"domain": [-1, 1], "nice": false, "zero": false}, "axis": {"title": "g₂", "titleFontStyle": "italic", "values": [-1, 0, 1], "labelExpr": "'' + datum.value", "gridOpacity": {"condition": {"test": "abs(datum.value) === 1", "value": 0}, "value": 1}}},
     "color": {"field": "s", "type": "nominal", "scale": {"domain": ["A","B","C"], "range": ["#0072BD","#D95319","#000000"]}},
     "strokeDash": {"field": "s", "type": "nominal", "scale": {"domain": ["A","B","C"], "range": [[1,0],[9,4],[15,10]]}}
    }},
   {"mark": {"type": "line", "strokeOpacity": 0},
    "encoding": {
     "x": {"field": "t", "type": "quantitative", "scale": {"domain": [0, 6000], "nice": false}, "axis": {"orient": "top", "title": null, "labels": false, "grid": false, "values": [0,240,480,720,960,1200,1440,1680,1920,2160,2400,2640,2880,3120,3360,3600,3840,4080,4320,4560,4800,5040,5280,5520,5760,6000]}},
     "y": {"field": "v", "type": "quantitative", "scale": {"domain": [-1, 1], "nice": false, "zero": false}, "axis": {"orient": "right", "title": null, "labels": false, "grid": false, "values": [-1, 0, 1]}}
    }}
  ]},
 {"width": 439, "height": 133, "title": "×10⁻³", "transform": [{"filter": "datum.p === 'l1'"}],
  "resolve": {"axis": {"x": "independent", "y": "independent"}},
  "layer": [
   {"mark": {"type": "line", "clip": true, "strokeWidth": 3.5, "strokeCap": "butt"},
    "encoding": {
     "x": {"field": "t", "type": "quantitative", "scale": {"domain": [0, 6000], "nice": false}, "axis": {"title": null, "values": [0,240,480,720,960,1200,1440,1680,1920,2160,2400,2640,2880,3120,3360,3600,3840,4080,4320,4560,4800,5040,5280,5520,5760,6000], "labelExpr": "datum.value % 1200 === 0 ? '' + datum.value : ''", "gridOpacity": {"condition": {"test": "datum.value % 1200 === 0 && datum.value > 0 && datum.value < 6000", "value": 1}, "value": 0}}},
     "y": {"field": "v", "type": "quantitative", "scale": {"domain": [0, 6], "nice": false, "zero": false}, "axis": {"title": "λ₁", "titleFontStyle": "italic", "values": [0, 2, 4, 6], "labelExpr": "'' + datum.value", "gridOpacity": {"condition": {"test": "datum.value === 0 || datum.value === 6", "value": 0}, "value": 1}}},
     "color": {"field": "s", "type": "nominal", "scale": {"domain": ["A","B","C"], "range": ["#0072BD","#D95319","#000000"]}},
     "strokeDash": {"field": "s", "type": "nominal", "scale": {"domain": ["A","B","C"], "range": [[1,0],[9,4],[15,10]]}}
    }},
   {"mark": {"type": "line", "strokeOpacity": 0},
    "encoding": {
     "x": {"field": "t", "type": "quantitative", "scale": {"domain": [0, 6000], "nice": false}, "axis": {"orient": "top", "title": null, "labels": false, "grid": false, "values": [0,240,480,720,960,1200,1440,1680,1920,2160,2400,2640,2880,3120,3360,3600,3840,4080,4320,4560,4800,5040,5280,5520,5760,6000]}},
     "y": {"field": "v", "type": "quantitative", "scale": {"domain": [0, 6], "nice": false, "zero": false}, "axis": {"orient": "right", "title": null, "labels": false, "grid": false, "values": [0, 2, 4, 6]}}
    }}
  ]},
 {"width": 437, "height": 133, "transform": [{"filter": "datum.p === 'l2'"}],
  "resolve": {"axis": {"x": "independent", "y": "independent"}},
  "layer": [
   {"mark": {"type": "line", "clip": true, "strokeWidth": 3.5, "strokeCap": "butt"},
    "encoding": {
     "x": {"field": "t", "type": "quantitative", "scale": {"domain": [0, 6000], "nice": false}, "axis": {"title": null, "values": [0,240,480,720,960,1200,1440,1680,1920,2160,2400,2640,2880,3120,3360,3600,3840,4080,4320,4560,4800,5040,5280,5520,5760,6000], "labelExpr": "datum.value % 1200 === 0 ? '' + datum.value : ''", "gridOpacity": {"condition": {"test": "datum.value % 1200 === 0 && datum.value > 0 && datum.value < 6000", "value": 1}, "value": 0}}},
     "y": {"field": "v", "type": "quantitative", "scale": {"domain": [160, 180], "nice": false, "zero": false}, "axis": {"title": "λ₂", "titleFontStyle": "italic", "values": [160, 170, 180], "labelExpr": "'' + datum.value", "gridOpacity": {"condition": {"test": "datum.value === 160 || datum.value === 180", "value": 0}, "value": 1}}},
     "color": {"field": "s", "type": "nominal", "scale": {"domain": ["A","B","C"], "range": ["#0072BD","#D95319","#000000"]}},
     "strokeDash": {"field": "s", "type": "nominal", "scale": {"domain": ["A","B","C"], "range": [[1,0],[9,4],[15,10]]}}
    }},
   {"mark": {"type": "line", "strokeOpacity": 0},
    "encoding": {
     "x": {"field": "t", "type": "quantitative", "scale": {"domain": [0, 6000], "nice": false}, "axis": {"orient": "top", "title": null, "labels": false, "grid": false, "values": [0,240,480,720,960,1200,1440,1680,1920,2160,2400,2640,2880,3120,3360,3600,3840,4080,4320,4560,4800,5040,5280,5520,5760,6000]}},
     "y": {"field": "v", "type": "quantitative", "scale": {"domain": [160, 180], "nice": false, "zero": false}, "axis": {"orient": "right", "title": null, "labels": false, "grid": false, "values": [160, 170, 180]}}
    }}
  ]},
 {"width": 439, "height": 132, "transform": [{"filter": "datum.p === 'u1'"}],
  "resolve": {"axis": {"x": "independent", "y": "independent"}},
  "layer": [
   {"mark": {"type": "line", "clip": true, "strokeWidth": 3.5, "strokeCap": "butt"},
    "encoding": {
     "x": {"field": "t", "type": "quantitative", "scale": {"domain": [0, 6000], "nice": false}, "axis": {"title": "Time [Sec]", "values": [0,240,480,720,960,1200,1440,1680,1920,2160,2400,2640,2880,3120,3360,3600,3840,4080,4320,4560,4800,5040,5280,5520,5760,6000], "labelExpr": "datum.value % 1200 === 0 ? '' + datum.value : ''", "gridOpacity": {"condition": {"test": "datum.value % 1200 === 0 && datum.value > 0 && datum.value < 6000", "value": 1}, "value": 0}}},
     "y": {"field": "v", "type": "quantitative", "scale": {"domain": [355, 370], "nice": false, "zero": false}, "axis": {"title": "u₁", "titleFontStyle": "italic", "values": [355, 360, 365, 370], "labelExpr": "'' + datum.value", "gridOpacity": {"condition": {"test": "datum.value === 355 || datum.value === 370", "value": 0}, "value": 1}}},
     "color": {"field": "s", "type": "nominal", "scale": {"domain": ["A","B","C"], "range": ["#0072BD","#D95319","#000000"]}},
     "strokeDash": {"field": "s", "type": "nominal", "scale": {"domain": ["A","B","C"], "range": [[1,0],[9,4],[15,10]]}}
    }},
   {"mark": {"type": "line", "strokeOpacity": 0},
    "encoding": {
     "x": {"field": "t", "type": "quantitative", "scale": {"domain": [0, 6000], "nice": false}, "axis": {"orient": "top", "title": null, "labels": false, "grid": false, "values": [0,240,480,720,960,1200,1440,1680,1920,2160,2400,2640,2880,3120,3360,3600,3840,4080,4320,4560,4800,5040,5280,5520,5760,6000]}},
     "y": {"field": "v", "type": "quantitative", "scale": {"domain": [355, 370], "nice": false, "zero": false}, "axis": {"orient": "right", "title": null, "labels": false, "grid": false, "values": [355, 360, 365, 370]}}
    }}
  ]},
 {"width": 437, "height": 132, "transform": [{"filter": "datum.p === 'u2'"}],
  "resolve": {"axis": {"x": "independent", "y": "independent"}},
  "layer": [
   {"mark": {"type": "line", "clip": true, "strokeWidth": 3.5, "strokeCap": "butt"},
    "encoding": {
     "x": {"field": "t", "type": "quantitative", "scale": {"domain": [0, 6000], "nice": false}, "axis": {"title": "Time [Sec]", "values": [0,240,480,720,960,1200,1440,1680,1920,2160,2400,2640,2880,3120,3360,3600,3840,4080,4320,4560,4800,5040,5280,5520,5760,6000], "labelExpr": "datum.value % 1200 === 0 ? '' + datum.value : ''", "gridOpacity": {"condition": {"test": "datum.value % 1200 === 0 && datum.value > 0 && datum.value < 6000", "value": 1}, "value": 0}}},
     "y": {"field": "v", "type": "quantitative", "scale": {"domain": [4.994, 5.439], "nice": false, "zero": false}, "axis": {"title": "u₂", "titleFontStyle": "italic", "values": [5, 5.2, 5.4], "labelExpr": "'' + datum.value"}},
     "color": {"field": "s", "type": "nominal", "scale": {"domain": ["A","B","C"], "range": ["#0072BD","#D95319","#000000"]}},
     "strokeDash": {"field": "s", "type": "nominal", "scale": {"domain": ["A","B","C"], "range": [[1,0],[9,4],[15,10]]}}
    }},
   {"mark": {"type": "line", "strokeOpacity": 0},
    "encoding": {
     "x": {"field": "t", "type": "quantitative", "scale": {"domain": [0, 6000], "nice": false}, "axis": {"orient": "top", "title": null, "labels": false, "grid": false, "values": [0,240,480,720,960,1200,1440,1680,1920,2160,2400,2640,2880,3120,3360,3600,3840,4080,4320,4560,4800,5040,5280,5520,5760,6000]}},
     "y": {"field": "v", "type": "quantitative", "scale": {"domain": [4.994, 5.439], "nice": false, "zero": false}, "axis": {"orient": "right", "title": null, "labels": false, "grid": false, "values": [5, 5.2, 5.4]}}
    }}
  ]}
]
}
